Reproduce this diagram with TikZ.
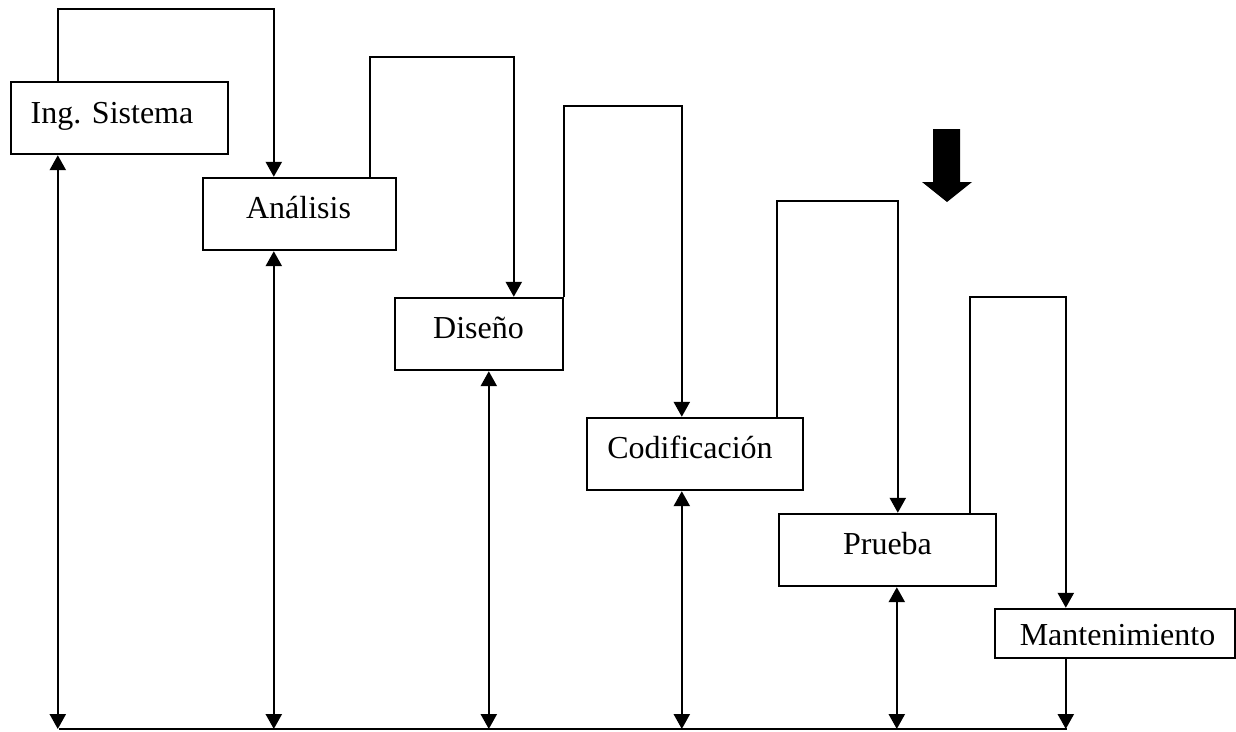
\documentclass[tikz,border=0pt]{standalone}
\usepackage{fontspec}
\setmainfont{Liberation Serif}
\usetikzlibrary{arrows.meta}
\begin{document}
\begin{tikzpicture}[x=1pt,y=-1pt, line width=2.4pt,
  box/.style={draw, line width=2.4pt, inner sep=0pt},
  lbl/.style={anchor=base, inner sep=0pt, font=\fontsize{32}{38}\selectfont},
  arr/.style={-{Triangle[width=16pt,length=15pt]}},
  dbl/.style={{Triangle[width=16pt,length=15pt]}-{Triangle[width=16pt,length=15pt]}}]
\useasboundingbox (0,0) rectangle (1236,731);
% boxes
\node[box, minimum width=217pt, minimum height=72pt] (ing) at (119.5,118) {};
\node[box, minimum width=193pt, minimum height=72pt] (ana) at (299.5,214) {};
\node[box, minimum width=168pt, minimum height=72pt] (dis) at (479,334) {};
\node[box, minimum width=216pt, minimum height=72pt] (cod) at (695,454) {};
\node[box, minimum width=217pt, minimum height=72pt] (pru) at (887.5,550) {};
\node[box, minimum width=240pt, minimum height=49pt] (man) at (1115,633.5) {};
% labels
\node[lbl] (tIng) at (112,123) {Ing. Sistema};
\node[lbl] (tAna) at (298.5,218) {Análisis};
\node[lbl] (tDis) at (478.5,338) {Diseño};
\node[lbl] (tCod) at (690,458) {Codificación};
\node[lbl] (tPru) at (887.5,554) {Prueba};
\begin{scope}
  \clip (996,610) rectangle (1234,644);
  \node[lbl] (tMan) at (1117.5,645) {Mantenimiento};
\end{scope}
% forward connectors
\draw[arr] ([xshift=48pt]ing.north west) -- ++(0,-72) -| ([xshift=72pt]ana.north west);
\draw[arr] ([xshift=168pt]ana.north west) -- ++(0,-120) -| ([xshift=120pt]dis.north west);
\draw[arr] (dis.north east) -- ++(0,-191) -| ([xshift=96pt]cod.north west);
\draw[arr] ([xshift=191pt]cod.north west) -- ++(0,-216) -| ([xshift=120pt]pru.north west);
\draw[arr] ([xshift=192pt]pru.north west) -- ++(0,-216) -| ([xshift=72pt]man.north west);
% bottom bus
\coordinate (bL) at (59,729);
\coordinate (bR) at (1067,729);
\draw (bL) -- (bR);
\path ([xshift=48pt]ing.south west) coordinate (ingB)
      ([xshift=72pt]ana.south west) coordinate (anaB)
      ([xshift=95pt]dis.south west) coordinate (disB)
      ([xshift=96pt]cod.south west) coordinate (codB)
      ([xshift=119pt]pru.south west) coordinate (pruB)
      ([xshift=72pt]man.south west) coordinate (manB);
\draw[dbl] (ingB) -- (ingB |- bL);
\draw[dbl] (anaB) -- (anaB |- bL);
\draw[dbl] (disB) -- (disB |- bL);
\draw[dbl] (codB) -- (codB |- bL);
\draw[dbl] (pruB) -- (pruB |- bL);
\draw[arr] (manB) -- (manB |- bL);
% big black arrow
\fill (933,129) -- (960,129) -- (960,182) -- (972,182) -- (947,202) -- (922,182) -- (933,182) -- cycle;
\end{tikzpicture}
\end{document}
